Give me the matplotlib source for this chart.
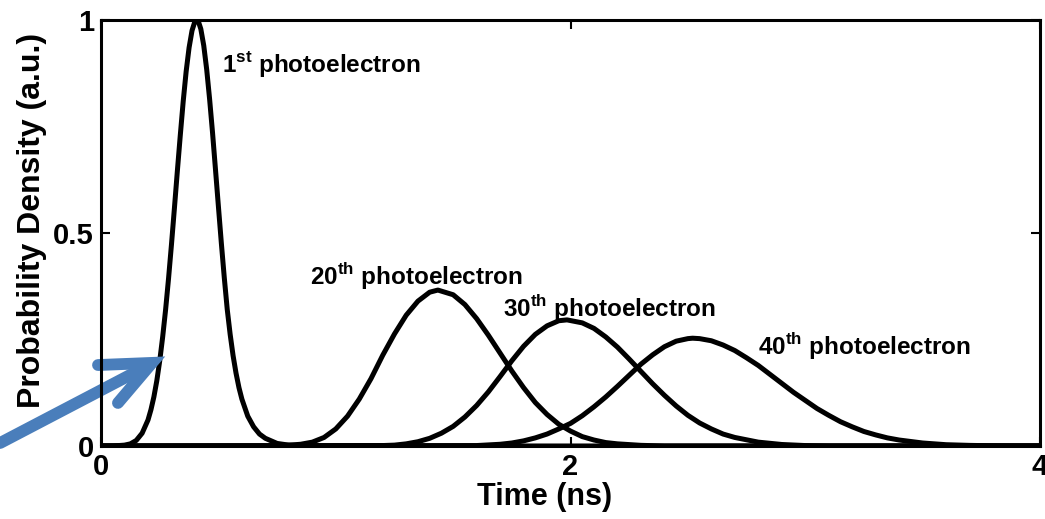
import matplotlib.pyplot as plt

plt.rcParams['font.family'] = ['Liberation Sans', 'DejaVu Sans']
plt.rcParams['font.weight'] = 'bold'
plt.rcParams['mathtext.fontset'] = 'custom'
plt.rcParams['mathtext.rm'] = 'Liberation Sans:bold'
plt.rcParams['mathtext.bf'] = 'Liberation Sans:bold'

# arrival-time densities (time in ns, density in a.u.)
t_1st = [0.0, 0.05, 0.10, 0.125, 0.15, 0.175, 0.20, 0.2125, 0.225, 0.2375, 0.25, 0.2625,
         0.275, 0.2875, 0.30, 0.3125, 0.325, 0.3375, 0.35, 0.3625, 0.375, 0.3875, 0.40,
         0.407, 0.415, 0.425, 0.4375, 0.45, 0.4625, 0.475, 0.4875, 0.50, 0.5125, 0.525,
         0.5375, 0.55, 0.5625, 0.575, 0.5875, 0.60, 0.625, 0.65, 0.675, 0.70, 0.75,
         0.80, 0.90, 4.0]
p_1st = [0.0, 0.0, 0.002, 0.005, 0.013, 0.030, 0.061, 0.085, 0.115, 0.153, 0.200, 0.256,
         0.320, 0.393, 0.473, 0.558, 0.645, 0.729, 0.809, 0.879, 0.935, 0.975, 0.997,
         1.0, 0.996, 0.979, 0.940, 0.884, 0.814, 0.735, 0.649, 0.562, 0.476, 0.395,
         0.321, 0.262, 0.212, 0.171, 0.137, 0.110, 0.070, 0.045, 0.028, 0.018, 0.006,
         0.002, 0.0, 0.0]

t_20th = [0.0, 0.70, 0.80, 0.85, 0.90, 0.95, 1.00, 1.05, 1.10, 1.15, 1.20, 1.25, 1.30,
          1.35, 1.40, 1.435, 1.50, 1.55, 1.60, 1.65, 1.70, 1.75, 1.80, 1.85, 1.90,
          1.95, 2.00, 2.05, 2.10, 2.15, 2.20, 2.30, 2.40, 4.0]
p_20th = [0.0, 0.0, 0.002, 0.004, 0.009, 0.020, 0.040, 0.070, 0.110, 0.158, 0.213, 0.263, 0.307,
          0.340, 0.361, 0.366, 0.355, 0.332, 0.299, 0.260, 0.218, 0.176, 0.137, 0.102, 0.074,
          0.051, 0.035, 0.022, 0.014, 0.008, 0.005, 0.0015, 0.0, 0.0]

t_30th = [0.0, 1.20, 1.25, 1.30, 1.35, 1.40, 1.45, 1.50, 1.55, 1.60, 1.65, 1.70, 1.75,
          1.80, 1.85, 1.90, 1.95, 1.985, 2.05, 2.10, 2.15, 2.20, 2.25, 2.30, 2.35,
          2.40, 2.45, 2.50, 2.55, 2.60, 2.65, 2.70, 2.80, 2.90, 3.00, 3.10, 4.0]
p_30th = [0.0, 0.001, 0.002, 0.005, 0.010, 0.018, 0.030, 0.046, 0.068, 0.095, 0.127, 0.163, 0.200,
          0.234, 0.262, 0.282, 0.294, 0.296, 0.289, 0.276, 0.256, 0.232, 0.204, 0.175, 0.146,
          0.119, 0.094, 0.072, 0.054, 0.040, 0.028, 0.020, 0.009, 0.0035, 0.001, 0.0, 0.0]

t_40th = [0.0, 1.60, 1.70, 1.75, 1.80, 1.85, 1.90, 1.95, 2.00, 2.05, 2.10, 2.15, 2.20,
          2.25, 2.30, 2.35, 2.40, 2.45, 2.50, 2.52, 2.55, 2.60, 2.65, 2.70, 2.75,
          2.80, 2.85, 2.90, 2.95, 3.00, 3.05, 3.10, 3.15, 3.20, 3.25, 3.30, 3.35,
          3.40, 3.50, 3.60, 3.70, 3.80, 3.90, 4.0]
p_40th = [0.0, 0.001, 0.004, 0.007, 0.012, 0.019, 0.028, 0.040, 0.053, 0.071, 0.092, 0.115, 0.140,
          0.166, 0.192, 0.214, 0.233, 0.246, 0.252, 0.253, 0.252, 0.247, 0.237, 0.224, 0.207,
          0.189, 0.168, 0.147, 0.126, 0.107, 0.088, 0.072, 0.057, 0.045, 0.034, 0.026, 0.019,
          0.014, 0.007, 0.003, 0.0014, 0.0005, 0.0, 0.0]

curves = [(t_1st, p_1st), (t_20th, p_20th), (t_30th, p_30th), (t_40th, p_40th)]

labels = [r'1$^{\mathbf{st}}$ photoelectron', r'20$^{\mathbf{th}}$ photoelectron',
          r'30$^{\mathbf{th}}$ photoelectron', r'40$^{\mathbf{th}}$ photoelectron']
label_x = [0.515, 0.89, 1.712, 2.80]
label_y = [0.878, 0.378, 0.303, 0.214]

fig = plt.figure(figsize=(10.45, 5.19), dpi=100)
ax = fig.add_axes([0.0967, 0.1407, 0.8985, 0.8208])

for t, p in curves:
    ax.plot(t, p, color='black', lw=3.6)

for txt, x, y in zip(labels, label_x, label_y):
    ax.text(x, y, txt, fontsize=17.5, fontweight='bold', va='baseline', ha='left')

# blue arrow pointing at the rising edge of the first peak
blue = '#4a7ebb'
ax.plot([-0.43, 0.205], [0.007, 0.19], color=blue, lw=8.5,
        solid_capstyle='round', clip_on=False)
ax.plot([-0.013, 0.217, 0.072], [0.190, 0.195, 0.101], color=blue, lw=8.5,
        solid_capstyle='round', solid_joinstyle='miter', clip_on=False)

ax.set_xlim(0, 4)
ax.set_ylim(0, 1)
ax.set_xticks([0, 2, 4])
ax.set_xticklabels(['0', '2', '4'])
ax.set_yticks([0, 0.5, 1])
ax.set_yticklabels(['0', '0.5', '1'])
ax.tick_params(direction='in', length=6.5, width=1.5, labelsize=21, pad=5,
               top=True, right=True)
for s in ax.spines.values():
    s.set_linewidth(2.2)

ax.set_xlabel('Time (ns)', fontsize=22, fontweight='bold')
ax.xaxis.set_label_coords(0.472, -0.085)
ax.set_ylabel('Probability Density (a.u.)', fontsize=23, fontweight='bold')
ax.yaxis.set_label_coords(-0.058, 0.53)

plt.savefig('out.png', dpi=100)
